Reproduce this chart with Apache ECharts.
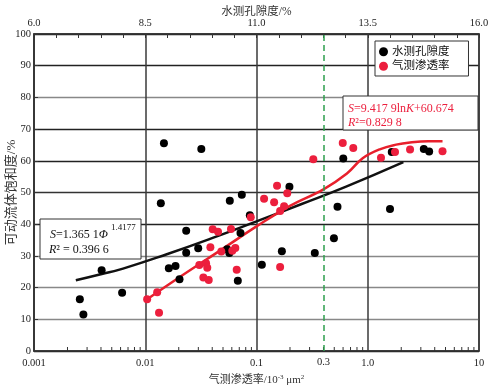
<!DOCTYPE html>
<html>
<head>
<meta charset="utf-8">
<script src="https://cdn.jsdelivr.net/npm/echarts@6/dist/echarts.min.js"></script>
<style>html,body{margin:0;padding:0;background:#fff;}#c{width:490px;height:388px;}</style>
</head>
<body>
<div id="c"></div>
<script>
// ---- data ----
const porosityX = [7.03,7.11,7.52,7.98,8.92,8.85,9.03,9.18,9.27,9.42,9.42,9.69,9.76,10.34,10.39,10.40,10.58,10.67,10.64,10.85,11.12,11.57,11.74,12.31,12.74,12.82,12.95,14.00,14.04,14.76,14.88];
const porosityS = [16.3,11.5,25.5,18.4,65.5,46.6,26.1,26.8,22.6,37.9,31.0,32.4,63.7,32.1,30.9,47.4,22.2,49.3,37.2,42.8,27.2,31.5,51.8,30.9,35.6,45.5,60.7,44.8,62.8,63.7,62.9];
const permK = [0.0104,0.0128,0.0133,0.324,0.153,0.189,0.117,0.144,0.177,0.163,0.0888,0.0404,0.0451,0.059,0.0385,0.0483,0.0606,0.0645,0.0306,0.0352,0.0361,0.0664,0.0333,0.0372,0.163,0.596,0.741,1.315,1.758,2.40,4.70];
const permS = [16.3,18.5,12.1,60.5,52.1,49.8,48.0,46.9,45.7,44.2,42.2,38.4,37.6,38.5,32.7,31.4,31.6,32.5,27.1,27.7,26.3,25.6,23.2,22.4,26.5,65.6,64.0,61.0,62.8,63.6,63.0];
// fitted curves as drawn in the reference
const porosityFitX = [6.94,7.5,8,9,10,11,12,13,14.3];
const porosityFitS = [22.3,24.2,26.0,30.6,35.6,40.9,46.3,51.8,59.6];
const permFitK = [0.0104,0.0206,0.05,0.1,0.2,0.4,0.65,0.9,1.3,1.8,2.4,3.5,4.7];
const permFitS = [16.3,23.4,32.3,39.3,45.8,51.0,56.0,60.8,63.7,65.1,65.8,66.2,66.2];
// tick labels
const bottomTickLabels = {'-3':'0.001','-2':'0.01','-1':'0.1','0':'1.0','1':'10'};
const bottomMinorTicks = [0.002,0.003,0.004,0.005,0.006,0.007,0.008,0.009,0.02,0.03,0.04,0.05,0.06,0.07,0.08,0.09,0.2,0.3,0.4,0.5,0.6,0.7,0.8,0.9,2,3,4,5,6,7,8,9];
const dashedLineK = 0.4;
const dashedLineLabel = '0.3';
const seriesNames = ['水测孔隙度','气测渗透率'];

const serif = 'Liberation Serif, Noto Sans CJK SC, serif';
const cjk = 'Liberation Serif, Noto Sans CJK SC, sans-serif';
const RED = '#ec1f3d';
const REDLINE = '#e8202c';

const chart = echarts.init(document.getElementById('c'), null, {renderer:'canvas'});
const zip = (a,b) => a.map((v,i)=>[v,b[i]]);

chart.setOption({
  animation:false,
  backgroundColor:'#fff',
  grid:{left:34,right:11,top:34,bottom:37,containLabel:false,outerBoundsMode:'none',show:true,borderColor:'#333',borderWidth:1.5,backgroundColor:'transparent'},
  legend:{
    data:seriesNames, orient:'vertical', left:375, top:41,
    padding:[5,19,4,4], itemGap:3, itemWidth:9, itemHeight:9, icon:'circle',
    borderColor:'#333', borderWidth:1, backgroundColor:'#fff',
    textStyle:{fontFamily:cjk,fontSize:11.5,color:'#111',padding:[0,0,0,-1]}
  },
  xAxis:[
    {type:'log',logBase:10,min:0.001,max:10,position:'bottom',
     axisLine:{show:true,lineStyle:{color:'#333',width:1.5}},
     axisTick:{show:false},
     axisLabel:{color:'#222',fontFamily:serif,fontSize:10.5,margin:7,
       formatter:v=>bottomTickLabels[String(Math.round(Math.log10(v)))]||''},
     splitLine:{show:true,lineStyle:{color:'#3a3a3a',width:1.5}},
     name:'{a|气测渗透率/10}{s|-3}{a| μm}{s|2}',nameLocation:'middle',nameGap:23,nameMoveOverlap:false,
     nameTextStyle:{rich:{a:{fontFamily:cjk,fontSize:11,color:'#333'},s:{fontFamily:serif,fontSize:7,color:'#333',padding:[0,0,6,0]}}}
    },
    {type:'value',min:6,max:16,interval:2.5,position:'top',
     axisLine:{show:true,lineStyle:{color:'#333',width:1.5}},
     axisTick:{show:true,inside:true,length:4,lineStyle:{color:'#333'}},
     minorTick:{show:true,splitNumber:5,length:4,lineStyle:{color:'#333'}},
     axisLabel:{color:'#222',fontFamily:serif,fontSize:10.5,margin:6,formatter:v=>v.toFixed(1)},
     splitLine:{show:false},
     name:'水测孔隙度/%',nameLocation:'middle',nameGap:16,nameMoveOverlap:false,
     nameTextStyle:{fontFamily:cjk,fontSize:11.5,color:'#333'}
    }
  ],
  yAxis:{type:'value',min:0,max:100,interval:10,
    axisLine:{show:true,lineStyle:{color:'#333',width:1.5}},
    axisTick:{show:true,inside:true,length:4,lineStyle:{color:'#333'}},
    axisLabel:{color:'#222',fontFamily:serif,fontSize:10.5,margin:3},
    splitLine:{show:true,lineStyle:{width:1.3,color:['#222','#888','#888','#888','#222','#333','#222','#222','#888','#222','#222']}},
    name:'可动流体饱和度/%',nameLocation:'middle',nameGap:16,nameMoveOverlap:false,
    nameTextStyle:{fontFamily:cjk,fontSize:13,color:'#333'}
  },
  series:[
    {type:'custom',xAxisIndex:0,silent:true,z:1,data:bottomMinorTicks.map(v=>[v]),encode:{x:0},
     renderItem:(params,api)=>{const p=api.coord([api.value(0),0]);
       return {type:'line',shape:{x1:p[0],y1:p[1],x2:p[0],y2:p[1]-4},style:{stroke:'#333',lineWidth:1}};}
    },
    {name:'水测孔隙度_fit',type:'line',xAxisIndex:1,data:zip(porosityFitX,porosityFitS),showSymbol:false,smooth:true,
     lineStyle:{color:'#111',width:2.5},silent:true,z:3},
    {name:'气测渗透率_fit',type:'line',xAxisIndex:0,data:zip(permFitK,permFitS),showSymbol:false,smooth:0.4,
     lineStyle:{color:REDLINE,width:2.5},silent:true,z:3,
     markLine:{silent:true,symbol:'none',data:[{xAxis:dashedLineK}],
       lineStyle:{color:'#2e9e4e',type:[6,4],width:1.5},
       label:{show:true,position:'start',formatter:dashedLineLabel,color:'#222',fontFamily:serif,fontSize:10.5,distance:6}}
    },
    {name:seriesNames[0],type:'scatter',xAxisIndex:1,data:zip(porosityX,porosityS),symbolSize:8,itemStyle:{color:'#000',opacity:1},z:4},
    {name:seriesNames[1],type:'scatter',xAxisIndex:0,data:zip(permK,permS),symbolSize:8,itemStyle:{color:RED,opacity:1},z:4}
  ],
  graphic:[
    {type:'rect',z:100,shape:{x:343,y:96,width:135,height:34},style:{fill:'#fff',stroke:'#333',lineWidth:1}},
    {type:'text',z:101,x:348,y:108.5,style:{text:'{i|S}=9.417 9ln{i|K}+60.674',verticalAlign:'middle',
      font:'12px '+serif,fill:RED,rich:{i:{fontStyle:'italic',fontFamily:serif,fontSize:12,fill:RED,color:RED}}}},
    {type:'text',z:101,x:348,y:122.5,style:{text:'{i|R}²=0.829 8',verticalAlign:'middle',
      font:'12px '+serif,fill:RED,rich:{i:{fontStyle:'italic',fontFamily:serif,fontSize:12,fill:RED,color:RED}}}},
    {type:'rect',z:100,shape:{x:40,y:219,width:101,height:40},style:{fill:'#fff',stroke:'#333',lineWidth:1}},
    {type:'text',z:101,x:50,y:234.5,style:{text:'{i|S}=1.365 1{i|Φ}',verticalAlign:'middle',
      font:'12px '+serif,fill:'#111',rich:{i:{fontStyle:'italic',fontFamily:serif,fontSize:12,fill:'#111',color:'#111'}}}},
    {type:'text',z:101,x:111,y:227.5,style:{text:'1.4177',verticalAlign:'middle',font:'9px '+serif,fill:'#111'}},
    {type:'text',z:101,x:49,y:250,style:{text:'{i|R}² = 0.396 6',verticalAlign:'middle',
      font:'12px '+serif,fill:'#111',rich:{i:{fontStyle:'italic',fontFamily:serif,fontSize:12,fill:'#111',color:'#111'}}}}
  ]
});
</script>
</body>
</html>
